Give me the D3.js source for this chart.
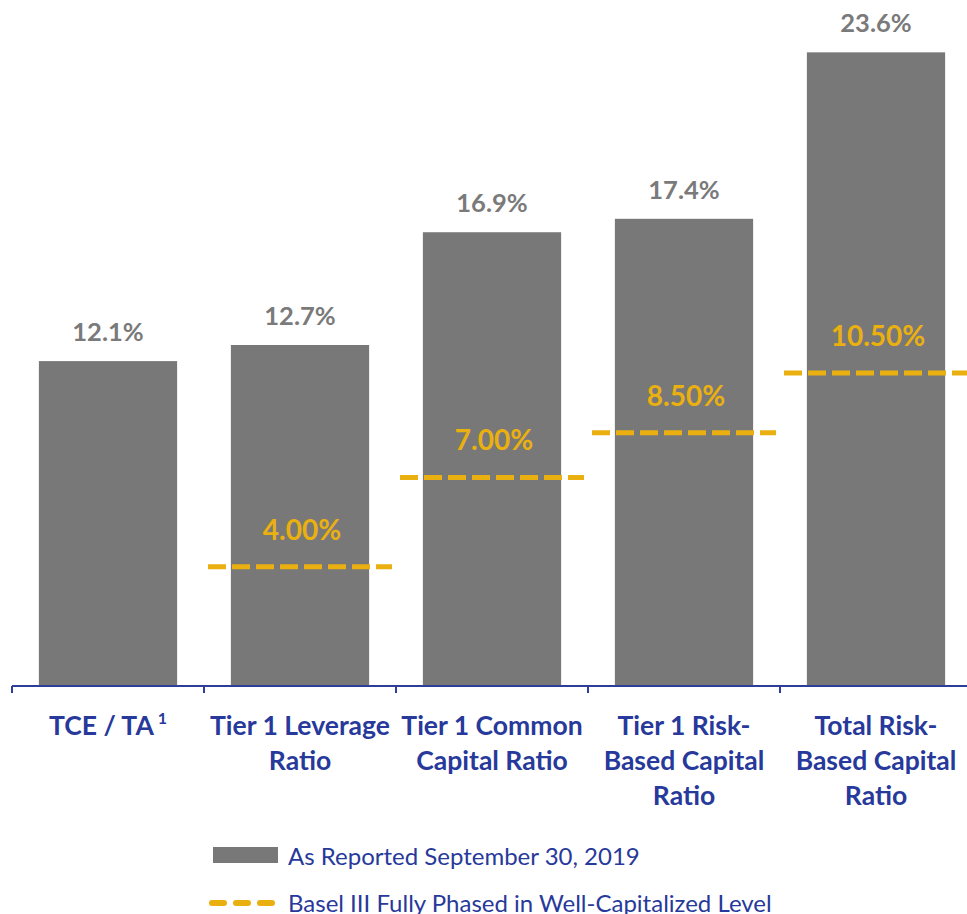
<!DOCTYPE html>
<html>
<head>
<meta charset="utf-8">
<script src="https://cdn.jsdelivr.net/npm/d3@7"></script>
<style>
  body { margin: 0; background: #fff; }
  svg { display: block; font-family: Lato, 'Open Sans', sans-serif; }
</style>
</head>
<body>
<div id="chart"></div>
<script>
// Data
let categories = ['TCE / TA', 'Tier 1 Leverage Ratio', 'Tier 1 Common Capital Ratio',
  'Tier 1 Risk-Based Capital Ratio', 'Total Risk-Based Capital Ratio']
let labelLines = [
  ['TCE / TA'],
  ['Tier 1 Leverage', 'Ratio'],
  ['Tier 1 Common', 'Capital Ratio'],
  ['Tier 1 Risk-', 'Based Capital', 'Ratio'],
  ['Total Risk-', 'Based Capital', 'Ratio'],
]
let reported = [12.1, 12.7, 16.9, 17.4, 23.6]
let wellCap = [null, 4.00, 7.00, 8.50, 10.50]
let legendLabels = ['As Reported September 30, 2019', 'Basel III Fully Phased in Well-Capitalized Level']

// Colors
let barColor = '#787878'
let lineColor = '#EAB010'
let navy = '#27399A'

// Plot constants
let width = 967
let height = 914
let axisY = 686

let svg = d3.select('#chart').append('svg')
  .attr('width', width)
  .attr('height', height)

let x = d3.scaleBand()
  .domain(categories)
  .range([12, 12 + 192 * categories.length])
  .paddingInner(0.28)
  .paddingOuter(0.14)

// bars and the dashed levels use their own vertical scales (as in the source)
let y = d3.scaleLinear().domain([0, 25]).range([axisY, axisY - 25 * 26.85])
let yLine = d3.scaleLinear().domain([0, 20]).range([axisY, axisY - 20 * 29.8])

let step = x.step()
let bandStart = d => x(d) - x.paddingOuter() * step

// Bars
svg.append('g').selectAll('rect')
  .data(categories)
  .enter().append('rect')
  .attr('x', d => x(d))
  .attr('width', x.bandwidth())
  .attr('y', (d, i) => y(reported[i]))
  .attr('height', (d, i) => axisY - y(reported[i]))
  .style('fill', barColor)

// Bar value labels
svg.append('g').selectAll('text')
  .data(categories)
  .enter().append('text')
  .attr('x', d => x(d) + x.bandwidth() / 2)
  .attr('y', (d, i) => y(reported[i]) - 20)
  .attr('text-anchor', 'middle')
  .style('font-size', '25.5px')
  .style('font-weight', 'bold')
  .style('fill', '#7a7a7a')
  .text((d, i) => reported[i].toFixed(1) + '%')

// Dashed well-capitalized levels
let levels = categories.map((d, i) => ({cat: d, v: wellCap[i]})).filter(d => d.v != null)

svg.append('g').selectAll('line')
  .data(levels)
  .enter().append('line')
  .attr('x1', d => bandStart(d.cat) + 4)
  .attr('x2', d => bandStart(d.cat) + step - 4)
  .attr('y1', d => yLine(d.v))
  .attr('y2', d => yLine(d.v))
  .style('stroke', lineColor)
  .style('stroke-width', 5)
  .style('stroke-dasharray', '18,6')

svg.append('g').selectAll('text')
  .data(levels)
  .enter().append('text')
  .attr('x', d => x(d.cat) + x.bandwidth() / 2 + 2)
  .attr('y', d => yLine(d.v) - 27)
  .attr('text-anchor', 'middle')
  .style('font-size', '28px')
  .style('font-weight', 'bold')
  .style('fill', lineColor)
  .text(d => d.v.toFixed(2) + '%')

// Category axis
let axis = svg.append('g').style('stroke', '#2E3D98').style('stroke-width', 2)
axis.append('line')
  .attr('x1', 12).attr('x2', width)
  .attr('y1', axisY).attr('y2', axisY)
axis.selectAll('line.tick')
  .data(categories)
  .enter().append('line')
  .attr('class', 'tick')
  .attr('x1', d => bandStart(d)).attr('x2', d => bandStart(d))
  .attr('y1', axisY).attr('y2', axisY + 7)

// Category labels
let catText = svg.append('g').selectAll('text')
  .data(categories)
  .enter().append('text')
  .attr('x', d => x(d) + x.bandwidth() / 2)
  .attr('y', 735)
  .attr('text-anchor', 'middle')
  .style('font-size', '26.5px')
  .style('font-weight', 'bold')
  .style('fill', navy)

catText.each(function(d, i) {
  let t = d3.select(this)
  labelLines[i].forEach(function(line, j) {
    t.append('tspan')
      .attr('x', x(d) + x.bandwidth() / 2)
      .attr('dy', j == 0 ? 0 : 35)
      .text(line)
  })
  if (i == 0) {
    t.append('tspan')
      .attr('dx', 4)
      .attr('dy', -11)
      .style('font-size', '16px')
      .text('1')
  }
})

// Legend
let legend = svg.append('g')
legend.append('rect')
  .attr('x', 213).attr('y', 847)
  .attr('width', 65).attr('height', 16)
  .style('fill', barColor)
legend.append('line')
  .attr('x1', 212).attr('x2', 276)
  .attr('y1', 903).attr('y2', 903)
  .style('stroke', lineColor)
  .style('stroke-width', 6)
  .style('stroke-linecap', 'round')
  .style('stroke-dasharray', '12,12')
legend.selectAll('text')
  .data(legendLabels)
  .enter().append('text')
  .attr('x', 288)
  .attr('y', (d, i) => 865 + i * 47)
  .style('font-size', '24px')
  .style('fill', navy)
  .text(d => d)
</script>
</body>
</html>
